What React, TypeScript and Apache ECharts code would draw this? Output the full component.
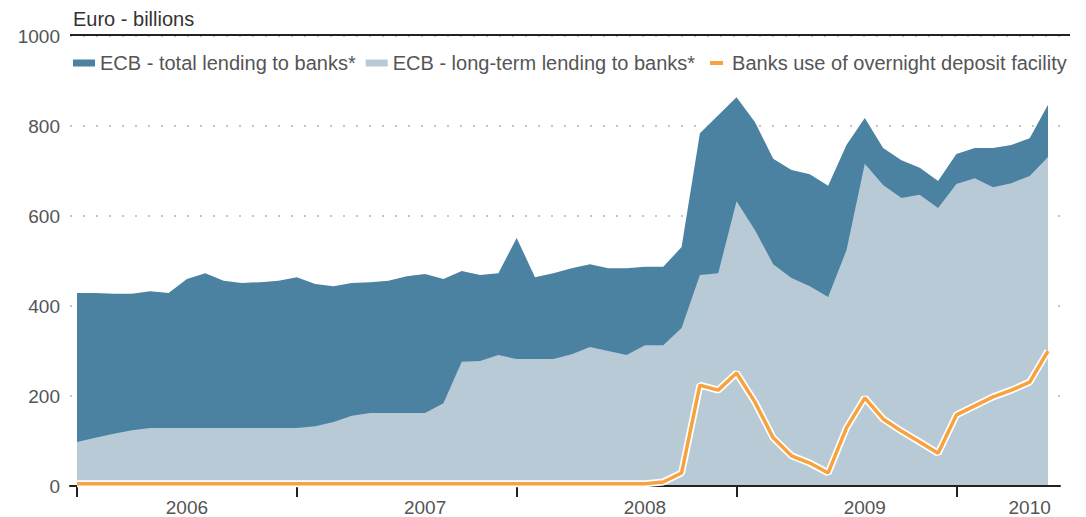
import React, { useEffect, useRef } from 'react';
import * as echarts from 'echarts';

// Monthly categories, Jan 2006 .. Jun 2010
const MONTHS: string[] = [];
for (let y = 2006; y <= 2010; y++) {
  for (let m = 1; m <= 12; m++) {
    if (y === 2010 && m > 6) break;
    MONTHS.push(`${y}-${String(m).padStart(2, '0')}`);
  }
}

const SERIES_NAMES = [
  'ECB - total lending to banks*',
  'ECB - long-term lending to banks*',
  'Banks use of overnight deposit facility',
];

// Euro billions
const TOTAL_LENDING = [
  429, 429, 427, 427, 433, 429, 460, 473, 456, 451,
  453, 456, 464, 449, 444, 451, 453, 456, 466, 471,
  460, 478, 469, 473, 551, 464, 473, 484, 493, 484,
  484, 487, 487, 531, 784, 824, 864, 809, 727, 702,
  693, 667, 758, 818, 751, 724, 707, 678, 738, 751,
  751, 758, 773, 847,
];

const LONG_TERM_LENDING = [
  98, 107, 116, 124, 129, 129, 129, 129, 129, 129,
  129, 129, 129, 133, 142, 156, 162, 162, 162, 162,
  184, 276, 278, 291, 282, 282, 282, 293, 309, 300,
  291, 313, 313, 351, 469, 473, 633, 569, 493, 462,
  444, 420, 524, 716, 669, 640, 647, 618, 671, 684,
  664, 673, 689, 731,
];

const DEPOSIT_FACILITY = [
  5, 5, 5, 5, 5, 5, 5, 5, 5, 5,
  5, 5, 5, 5, 5, 5, 5, 5, 5, 5,
  5, 5, 5, 5, 5, 5, 5, 5, 5, 5,
  5, 5, 9, 29, 224, 213, 251, 187, 107, 67,
  51, 29, 129, 196, 149, 122, 98, 73, 158, 178,
  198, 213, 231, 300,
];

const Y_MIN = 0;
const Y_MAX = 1000;
const Y_STEP = 200;

const YEAR_LABELS = ['2006', '2007', '2008', '2009', '2010'];
const YEAR_LABEL_AT = [6, 19, 31, 43, 52];
const YEAR_START_AT = [0, 12, 24, 36, 48];

const COLORS = {
  dark: '#4b82a2',
  light: '#b8cad6',
  orange: '#f7a23e',
  text: '#555555',
  title: '#333333',
  rule: '#222222',
  grid: '#c4c4c4',
};

const FONT = '"Liberation Sans", Arial, Helvetica, sans-serif';
const GRID_TOP = 36;
const GRID_HEIGHT = 450;

export default function App() {
  const ref = useRef<HTMLDivElement>(null);

  useEffect(() => {
    if (!ref.current) return;
    const chart = echarts.init(ref.current, undefined, { renderer: 'svg' });
    const option: any = {
      animation: false,
      backgroundColor: '#ffffff',
      textStyle: { fontFamily: FONT },
      title: {
        text: 'Euro - billions',
        left: 68,
        top: 4,
        textStyle: { fontSize: 20, fontWeight: 'normal', color: COLORS.title, fontFamily: FONT },
      },
      legend: {
        left: 68,
        top: 48,
        itemWidth: 22,
        itemHeight: 7,
        itemGap: 10,
        selectedMode: false,
        textStyle: { fontSize: 20, color: COLORS.text, fontFamily: FONT },
        data: [
          { name: SERIES_NAMES[0], icon: 'rect' },
          { name: SERIES_NAMES[1], icon: 'rect' },
          {
            name: SERIES_NAMES[2],
            icon: 'path://M5,0h13v4h-13z M0,0h0.05v0.05h-0.05z M21.95,3.95h0.05v0.05h-0.05z',
          },
        ],
      },
      grid: [
        { left: 77, right: 38, top: GRID_TOP, height: GRID_HEIGHT },
        { left: 70, right: 26, top: GRID_TOP, height: GRID_HEIGHT },
      ],
      xAxis: [
        {
          type: 'category',
          gridIndex: 0,
          data: MONTHS,
          boundaryGap: false,
          axisLine: { show: false },
          axisTick: {
            show: true,
            interval: (i: number) => YEAR_START_AT.indexOf(i) >= 0,
            length: 11,
            lineStyle: { color: COLORS.rule, width: 2 },
          },
          axisLabel: {
            interval: (i: number) => YEAR_LABEL_AT.indexOf(i) >= 0,
            formatter: (_v: string, i: number) => {
              const k = YEAR_LABEL_AT.indexOf(i);
              return k >= 0 ? YEAR_LABELS[k] : '';
            },
            margin: 12,
            fontSize: 19,
            color: COLORS.text,
            fontFamily: FONT,
          },
          splitLine: { show: false },
        },
        {
          type: 'value',
          gridIndex: 1,
          min: 0,
          max: 1,
          z: 3,
          axisLine: { show: true, onZero: false, lineStyle: { color: COLORS.rule, width: 2 } },
          axisTick: { show: false },
          axisLabel: { show: false },
          splitLine: { show: false },
        },
      ],
      yAxis: [
        { type: 'value', gridIndex: 0, min: Y_MIN, max: Y_MAX, show: false, splitLine: { show: false } },
        {
          type: 'value',
          gridIndex: 1,
          min: Y_MIN,
          max: Y_MAX,
          interval: Y_STEP,
          axisLine: { show: false },
          axisTick: { show: false },
          axisLabel: {
            margin: 10,
            fontSize: 19,
            color: COLORS.text,
            fontFamily: FONT,
            formatter: (v: number) => String(v),
          },
          splitLine: { show: true, lineStyle: { type: [2, 11], width: 2, color: COLORS.grid } },
        },
      ],
      series: [
        {
          name: SERIES_NAMES[0],
          type: 'line',
          xAxisIndex: 0,
          yAxisIndex: 0,
          data: TOTAL_LENDING,
          symbol: 'none',
          color: COLORS.dark,
          itemStyle: { color: COLORS.dark },
          lineStyle: { width: 0, color: COLORS.dark },
          areaStyle: { color: COLORS.dark, opacity: 1 },
          z: 1,
          silent: true,
        },
        {
          name: SERIES_NAMES[1],
          type: 'line',
          xAxisIndex: 0,
          yAxisIndex: 0,
          data: LONG_TERM_LENDING,
          symbol: 'none',
          color: COLORS.light,
          itemStyle: { color: COLORS.light },
          lineStyle: { width: 0, color: COLORS.light },
          areaStyle: { color: COLORS.light, opacity: 1 },
          z: 2,
          silent: true,
        },
        {
          name: 'halo',
          type: 'line',
          xAxisIndex: 0,
          yAxisIndex: 0,
          data: DEPOSIT_FACILITY,
          symbol: 'none',
          lineStyle: { width: 7, color: '#ffffff' },
          z: 4,
          silent: true,
        },
        {
          name: SERIES_NAMES[2],
          type: 'line',
          xAxisIndex: 0,
          yAxisIndex: 0,
          data: DEPOSIT_FACILITY,
          symbol: 'none',
          color: COLORS.orange,
          itemStyle: { color: COLORS.orange },
          lineStyle: { width: 3.5, color: COLORS.orange },
          z: 5,
          silent: true,
        },
      ],
      graphic: [
        {
          type: 'line',
          z: 100,
          shape: { x1: 70, y1: GRID_TOP - 1, x2: 1070, y2: GRID_TOP - 1 },
          style: { stroke: COLORS.rule, lineWidth: 2 },
        },
      ],
    };
    chart.setOption(option);
    return () => chart.dispose();
  }, []);

  return (
    <div
      ref={ref}
      style={{ position: 'fixed', left: 0, top: 0, width: 1086, height: 517, background: '#fff' }}
    />
  );
}
